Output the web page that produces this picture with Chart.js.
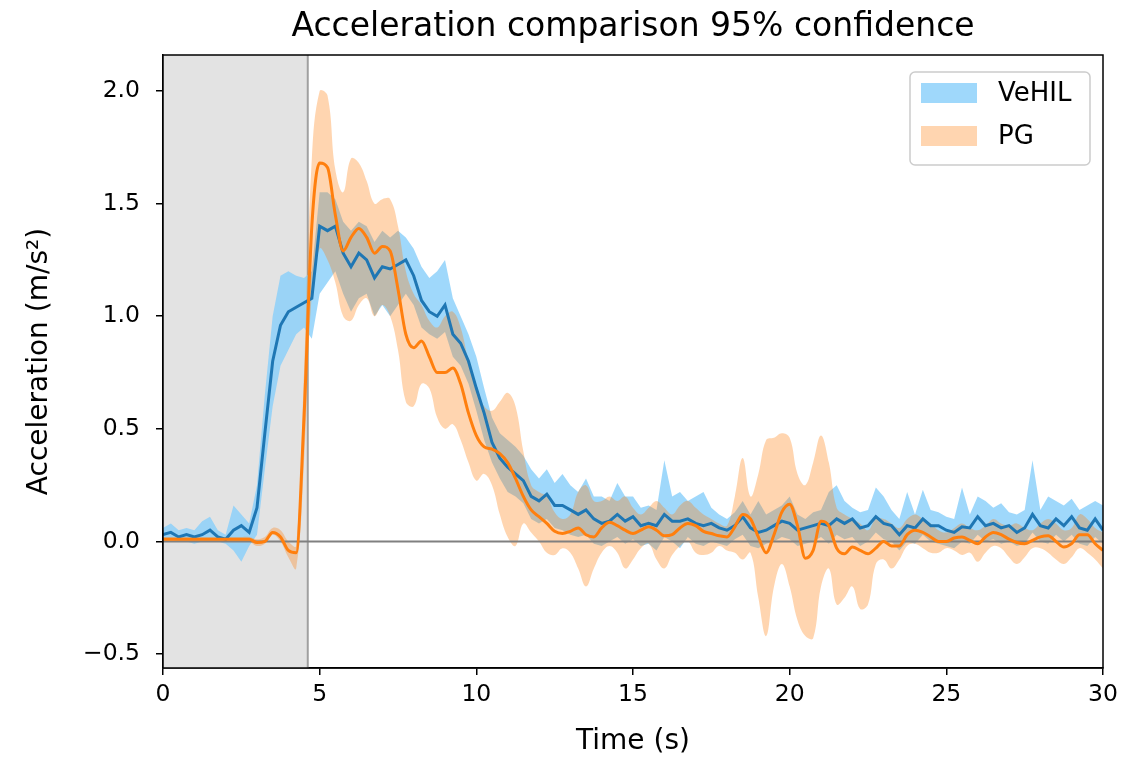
<!DOCTYPE html>
<html lang="en">
<head>
  <meta charset="UTF-8" />
  <title>Acceleration comparison</title>
  <script src="https://cdn.jsdelivr.net/npm/chart.js"></script>
  <style>
    body { margin: 0; background: #fff; }
    canvas { display: block; }
  </style>
</head>
<body>
  <canvas id="accChart" width="1144" height="760"></canvas>
  <script>
    // sample times (s), one every 0.25 s
    const times = [
      0, 0.25, 0.5, 0.75, 1, 1.25, 1.5, 1.75, 2, 2.25, 2.5, 2.75,
      3, 3.25, 3.5, 3.75, 4, 4.25, 4.5, 4.75, 5, 5.25, 5.5, 5.75,
      6, 6.25, 6.5, 6.75, 7, 7.25, 7.5, 7.75, 8, 8.25, 8.5, 8.75,
      9, 9.25, 9.5, 9.75, 10, 10.25, 10.5, 10.75, 11, 11.25, 11.5, 11.75,
      12, 12.25, 12.5, 12.75, 13, 13.25, 13.5, 13.75, 14, 14.25, 14.5, 14.75,
      15, 15.25, 15.5, 15.75, 16, 16.25, 16.5, 16.75, 17, 17.25, 17.5, 17.75,
      18, 18.25, 18.5, 18.75, 19, 19.25, 19.5, 19.75, 20, 20.25, 20.5, 20.75,
      21, 21.25, 21.5, 21.75, 22, 22.25, 22.5, 22.75, 23, 23.25, 23.5, 23.75,
      24, 24.25, 24.5, 24.75, 25, 25.25, 25.5, 25.75, 26, 26.25, 26.5, 26.75,
      27, 27.25, 27.5, 27.75, 28, 28.25, 28.5, 28.75, 29, 29.25, 29.5, 29.75, 30
    ];

    const vehilMean = [
      0.03, 0.04, 0.02, 0.03, 0.02, 0.03, 0.05, 0.02, 0.01, 0.05, 0.07, 0.04,
      0.15, 0.48, 0.80, 0.96, 1.02, 1.04, 1.06, 1.08,
      1.40, 1.38, 1.40, 1.28, 1.22, 1.28, 1.25, 1.17,
      1.22, 1.21, 1.23, 1.25, 1.18, 1.07, 1.02, 1.00,
      1.05, 0.92, 0.88, 0.80, 0.68, 0.57, 0.44, 0.37,
      0.33, 0.30, 0.27, 0.20, 0.18, 0.21, 0.16, 0.16,
      0.14, 0.12, 0.14, 0.10, 0.08, 0.09, 0.12, 0.09,
      0.11, 0.07, 0.08, 0.07, 0.12, 0.09, 0.09, 0.10,
      0.08, 0.07, 0.08, 0.06, 0.05, 0.07, 0.11, 0.06,
      0.04, 0.05, 0.07, 0.09, 0.08, 0.05, 0.06, 0.07,
      0.08, 0.07, 0.10, 0.08, 0.10, 0.06, 0.07, 0.11,
      0.08, 0.07, 0.03, 0.07, 0.06, 0.10, 0.07, 0.07,
      0.05, 0.04, 0.065, 0.06, 0.11, 0.07, 0.08, 0.06,
      0.07, 0.04, 0.06, 0.12, 0.07, 0.06, 0.10, 0.07,
      0.11, 0.06, 0.05, 0.10, 0.05
    ];
    const vehilLow = [
      0.00, 0.01, 0.00, 0.00, -0.01, 0.00, 0.00, 0.00, -0.01, -0.04, -0.09, -0.02,
      0.03, 0.32, 0.60, 0.78, 0.85, 0.92, 0.95, 0.90,
      1.10, 1.15, 1.20, 1.10, 1.02, 1.08, 1.10, 1.00,
      1.05, 1.00, 1.05, 1.10, 1.05, 0.95, 0.92, 0.90,
      0.93, 0.82, 0.78, 0.70, 0.58, 0.45, 0.35, 0.28,
      0.22, 0.20, 0.17, 0.10, 0.08, 0.10, 0.06, 0.05,
      0.03, 0.02, 0.03, -0.01, -0.02, 0.00, 0.02, -0.01,
      0.01, -0.02, -0.01, -0.04, 0.02, 0.00, -0.03, 0.02,
      -0.01, -0.02, 0.00, -0.01, -0.02, 0.01, 0.03, -0.02,
      -0.03, -0.01, 0.00, 0.02, 0.01, -0.02, -0.01, 0.00,
      0.02, -0.01, 0.03, 0.01, 0.02, -0.02, 0.00, 0.04,
      0.01, 0.00, -0.04, 0.00, -0.01, 0.03, 0.00, -0.01,
      -0.02, -0.03, 0.00, -0.01, 0.03, 0.00, 0.01, -0.01,
      0.00, -0.02, -0.01, 0.04, 0.00, -0.01, 0.03, 0.00,
      0.03, -0.01, -0.02, 0.02, -0.01
    ];
    const vehilHigh = [
      0.06, 0.08, 0.05, 0.06, 0.05, 0.09, 0.11, 0.05, 0.03, 0.16, 0.12, 0.08,
      0.25, 0.65, 1.00, 1.18, 1.20, 1.18, 1.17, 1.20,
      1.55, 1.55, 1.52, 1.42, 1.38, 1.42, 1.40, 1.33,
      1.38, 1.35, 1.38, 1.35, 1.30, 1.22, 1.17, 1.20,
      1.25, 1.08, 1.00, 0.92, 0.82, 0.68, 0.55, 0.48,
      0.45, 0.42, 0.38, 0.32, 0.28, 0.32, 0.26, 0.30,
      0.25, 0.22, 0.28, 0.20, 0.20, 0.18, 0.26, 0.20,
      0.20, 0.15, 0.16, 0.14, 0.36, 0.20, 0.22, 0.18,
      0.20, 0.22, 0.15, 0.12, 0.10, 0.13, 0.18, 0.12,
      0.18, 0.12, 0.14, 0.16, 0.20, 0.12, 0.10, 0.13,
      0.14, 0.22, 0.25, 0.18, 0.15, 0.13, 0.14, 0.24,
      0.20, 0.14, 0.10, 0.22, 0.12, 0.23, 0.14, 0.13,
      0.11, 0.10, 0.24, 0.12, 0.20, 0.18, 0.15, 0.17,
      0.13, 0.12, 0.14, 0.36, 0.14, 0.20, 0.18, 0.16,
      0.19, 0.14, 0.16, 0.18, 0.16
    ];

    const pgMean = [
      0.01, 0.01, 0.01, 0.01, 0.01, 0.01, 0.01, 0.01, 0.01, 0.01, 0.01, 0.01,
      -0.005, 0.00, 0.04, 0.02, -0.04, -0.05, 0.55, 1.40,
      1.68, 1.66, 1.45, 1.29, 1.35, 1.39, 1.35, 1.28,
      1.31, 1.29, 1.12, 0.92, 0.86, 0.89, 0.82, 0.75,
      0.75, 0.77, 0.70, 0.57, 0.47, 0.42, 0.41, 0.39,
      0.35, 0.28, 0.20, 0.14, 0.11, 0.08, 0.045, 0.035,
      0.045, 0.06, 0.03, 0.02, 0.06, 0.085, 0.07, 0.05,
      0.035, 0.05, 0.065, 0.05, 0.025, 0.03, 0.06, 0.08,
      0.07, 0.045, 0.035, 0.025, 0.02, 0.065, 0.12, 0.10,
      0.02, -0.05, 0.03, 0.13, 0.165, 0.07, -0.075, -0.04,
      0.09, 0.07, -0.03, -0.055, -0.025, -0.04, -0.055, -0.03,
      0.00, -0.02, -0.02, 0.03, 0.05, 0.04, 0.02, 0.00,
      0.00, 0.015, 0.02, 0.005, -0.01, 0.02, 0.04, 0.03,
      0.01, -0.005, -0.01, 0.005, 0.02, 0.025, 0.00, -0.025,
      -0.01, 0.03, 0.03, -0.01, -0.04
    ];
    const pgLow = [
      0.00, 0.00, 0.00, 0.00, 0.00, 0.00, 0.00, 0.00, 0.00, 0.00, 0.00, 0.00,
      -0.02, -0.01, 0.03, 0.00, -0.07, -0.12, 0.35, 1.10,
      1.30, 1.25, 1.15, 1.00, 0.98, 1.05, 1.08, 1.00,
      1.05, 1.00, 0.85, 0.62, 0.60, 0.70, 0.68, 0.55,
      0.50, 0.52, 0.45, 0.35, 0.27, 0.30, 0.25, 0.12,
      0.02, -0.02, 0.08, 0.04, 0.00, -0.05, -0.06, -0.03,
      -0.05, -0.12, -0.20, -0.12, -0.05, -0.02, -0.05, -0.12,
      -0.08, -0.03, -0.01, -0.08, -0.12, -0.06, -0.02, 0.00,
      -0.05, -0.06, -0.05, -0.02, -0.04, -0.05, -0.08, -0.05,
      -0.25, -0.42, -0.20, -0.10, -0.20, -0.35, -0.42, -0.43,
      -0.20, -0.12, -0.28, -0.25, -0.20, -0.30, -0.28, -0.10,
      -0.08, -0.12, -0.08, -0.02, -0.01, -0.03, -0.05, -0.05,
      -0.03, -0.04, -0.06, -0.05, -0.09, -0.05, -0.02, -0.03,
      -0.07, -0.10, -0.07, -0.03, -0.03, -0.05, -0.08, -0.10,
      -0.07, -0.03, -0.05, -0.08, -0.12
    ];
    const pgHigh = [
      0.02, 0.02, 0.02, 0.02, 0.02, 0.02, 0.02, 0.02, 0.02, 0.02, 0.02, 0.02,
      0.01, 0.02, 0.06, 0.05, 0.00, -0.02, 0.75, 1.70,
      2.00, 1.98, 1.65, 1.55, 1.70, 1.68, 1.60, 1.50,
      1.52, 1.52, 1.40, 1.20, 1.10, 1.05, 0.98, 0.95,
      1.00, 1.02, 0.95, 0.80, 0.68, 0.60, 0.58, 0.62,
      0.66, 0.60, 0.40, 0.25, 0.22, 0.20, 0.13, 0.10,
      0.12, 0.22, 0.25, 0.18, 0.18, 0.20, 0.18, 0.20,
      0.15, 0.12, 0.15, 0.18, 0.15, 0.12, 0.16, 0.18,
      0.15, 0.12, 0.10, 0.08, 0.07, 0.20, 0.37, 0.20,
      0.30, 0.45, 0.46, 0.48, 0.46, 0.30, 0.25, 0.35,
      0.47, 0.35, 0.15, 0.12, 0.10, 0.08, 0.05, 0.10,
      0.10, 0.08, 0.06, 0.10, 0.12, 0.10, 0.08, 0.05,
      0.04, 0.06, 0.08, 0.06, 0.05, 0.07, 0.10, 0.08,
      0.07, 0.08, 0.06, 0.05, 0.08, 0.10, 0.08, 0.05,
      0.06, 0.12, 0.10, 0.06, 0.04
    ];

    const seriesNames = ['VeHIL', 'PG'];
    const warmupEnd = 4.62;           // end of the grey shaded start phase (s)
    const xTickValues = [0, 5, 10, 15, 20, 25, 30];
    const yTickValues = [-0.5, 0.0, 0.5, 1.0, 1.5, 2.0];

    const FONT = '"DejaVu Sans", sans-serif';
    const BLUE = '#1f77b4';
    const ORANGE = '#ff7f0e';
    const BLUE_BAND = 'rgba(135, 206, 250, 0.8)';
    const ORANGE_BAND = 'rgba(255, 127, 14, 0.33)';

    const pts = arr => times.map((t, i) => ({ x: t, y: arr[i] }));

    function band(label, arr, color, fill, tension) {
      return {
        label: label,
        data: pts(arr),
        borderWidth: 0,
        borderColor: 'rgba(0,0,0,0)',
        backgroundColor: color,
        pointRadius: 0,
        fill: fill,
        tension: tension
      };
    }

    // grey start phase, its edge, the zero line, frame, title and legend
    const decor = {
      id: 'decor',
      beforeDatasetsDraw(chart) {
        const { ctx, chartArea: a, scales: { x } } = chart;
        const xe = x.getPixelForValue(warmupEnd);
        ctx.save();
        ctx.fillStyle = '#e3e3e3';
        ctx.fillRect(a.left, a.top, xe - a.left, a.bottom - a.top);
        ctx.strokeStyle = '#a0a0a0';
        ctx.lineWidth = 2;
        ctx.beginPath();
        ctx.moveTo(xe, a.top);
        ctx.lineTo(xe, a.bottom);
        ctx.stroke();
        ctx.restore();
      },
      beforeDatasetDraw(chart, args) {
        // Chart.js draws the last dataset first; index 1 is the VeHIL mean line
        if (args.index !== 1) return;
        const { ctx, chartArea: a, scales: { y } } = chart;
        const y0 = y.getPixelForValue(0);
        ctx.save();
        ctx.strokeStyle = '#808080';
        ctx.lineWidth = 2;
        ctx.beginPath();
        ctx.moveTo(a.left, y0);
        ctx.lineTo(a.right, y0);
        ctx.stroke();
        ctx.restore();
      },
      afterDraw(chart) {
        const { ctx, chartArea: a } = chart;
        ctx.save();
        ctx.strokeStyle = '#000';
        ctx.lineWidth = 1.5;
        ctx.strokeRect(a.left, a.top, a.right - a.left, a.bottom - a.top);

        ctx.fillStyle = '#000';
        ctx.font = '33px ' + FONT;
        ctx.textAlign = 'center';
        ctx.textBaseline = 'middle';
        ctx.fillText('Acceleration comparison 95% confidence', (a.left + a.right) / 2, 27);

        const bw = 180, bh = 93;
        const bx = a.right - 13 - bw, by = a.top + 17;
        ctx.fillStyle = 'rgba(255,255,255,0.8)';
        ctx.strokeStyle = '#cccccc';
        ctx.lineWidth = 1.5;
        ctx.beginPath();
        ctx.roundRect(bx, by, bw, bh, 5);
        ctx.fill();
        ctx.stroke();
        const swatches = [BLUE_BAND, ORANGE_BAND];
        ctx.font = '26px ' + FONT;
        ctx.textAlign = 'left';
        seriesNames.forEach((name, i) => {
          const sy = by + 11 + i * 43;
          ctx.fillStyle = swatches[i];
          ctx.fillRect(bx + 11, sy, 56, 20);
          ctx.fillStyle = '#000';
          ctx.fillText(name, bx + 88, sy + 11);
        });
        ctx.restore();
      }
    };

    const ctx = document.getElementById('accChart').getContext('2d');
    new Chart(ctx, {
      type: 'line',
      data: {
        datasets: [
          {
            label: seriesNames[1] + ' mean',
            data: pts(pgMean),
            borderColor: ORANGE,
            borderWidth: 3,
            pointRadius: 0,
            fill: false,
            cubicInterpolationMode: 'monotone'
          },
          {
            label: seriesNames[0] + ' mean',
            data: pts(vehilMean),
            borderColor: BLUE,
            borderWidth: 3,
            pointRadius: 0,
            fill: false,
            tension: 0
          },
          band(seriesNames[1], pgHigh, ORANGE_BAND, '+1', 0.4),
          band(seriesNames[1] + ' low', pgLow, ORANGE_BAND, false, 0.4),
          band(seriesNames[0], vehilHigh, BLUE_BAND, '+1', 0),
          band(seriesNames[0] + ' low', vehilLow, BLUE_BAND, false, 0)
        ]
      },
      options: {
        responsive: false,
        animation: false,
        events: [],
        layout: { padding: { top: 55, right: 41, left: 0, bottom: 0 } },
        plugins: {
          legend: { display: false },
          tooltip: { enabled: false },
          title: { display: false },
          filler: { drawTime: 'beforeDatasetDraw' }
        },
        scales: {
          x: {
            type: 'linear',
            min: 0,
            max: 30,
            afterBuildTicks: s => { s.ticks = xTickValues.map(v => ({ value: v })); },
            afterFit: s => { s.height = 92; },
            grid: { display: true, drawOnChartArea: false, drawTicks: true, tickLength: 7, color: '#000', lineWidth: 1.5 },
            border: { display: true, color: '#000', width: 1.5 },
            ticks: {
              color: '#000',
              font: { family: FONT, size: 23.5 },
              padding: 6,
              maxRotation: 0,
              callback: v => String(v)
            },
            title: {
              display: true,
              text: 'Time (s)',
              color: '#000',
              font: { family: FONT, size: 28 },
              padding: { top: 0, bottom: 1 }
            }
          },
          y: {
            type: 'linear',
            min: -0.562,
            max: 2.16,
            afterBuildTicks: s => { s.ticks = yTickValues.map(v => ({ value: v })); },
            afterFit: s => { s.width = 163; },
            grid: { display: true, drawOnChartArea: false, drawTicks: true, tickLength: 7, color: '#000', lineWidth: 1.5 },
            border: { display: true, color: '#000', width: 1.5 },
            ticks: {
              color: '#000',
              font: { family: FONT, size: 23.5 },
              padding: 16,
              callback: v => v.toFixed(1).replace('-', '\u2212')
            },
            title: {
              display: true,
              text: 'Acceleration (m/s\u00b2)',
              color: '#000',
              font: { family: FONT, size: 28 },
              padding: { top: 23, bottom: 0 }
            }
          }
        }
      },
      plugins: [decor]
    });
  </script>
</body>
</html>
